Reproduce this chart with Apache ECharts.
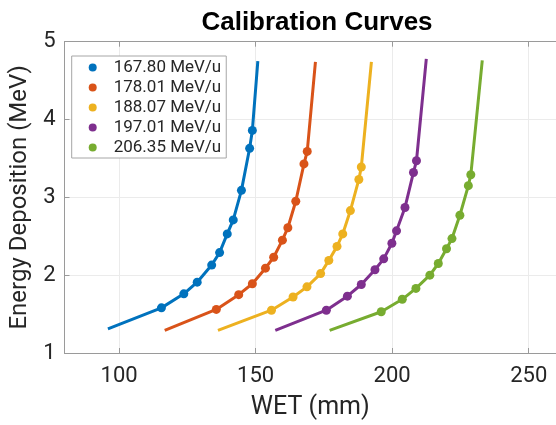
<!DOCTYPE html>
<html>
<head>
<meta charset="utf-8">
<script src="https://cdn.jsdelivr.net/npm/echarts@6/dist/echarts.min.js"></script>
<style>html,body{margin:0;padding:0;background:#fff}#c{width:556px;height:425px}</style>
</head>
<body>
<div id="c"></div>
<script>
var seriesNames = ['167.80 MeV/u', '178.01 MeV/u', '188.07 MeV/u', '197.01 MeV/u', '206.35 MeV/u'];
var colors = ['#0072BD', '#D95319', '#EDB120', '#7E2F8E', '#77AC30'];
var xTicks = [100, 150, 200, 250];

// measured points (WET mm, Energy MeV)
var wet1 = [115.5, 123.7, 128.6, 133.9, 136.8, 139.6, 141.8, 144.8, 147.8, 148.8];
var dep1 = [1.58, 1.76, 1.91, 2.13, 2.29, 2.53, 2.71, 3.09, 3.63, 3.86];
var wet2 = [135.6, 143.8, 148.8, 153.6, 156.6, 159.8, 161.8, 164.7, 167.7, 168.9];
var dep2 = [1.56, 1.75, 1.89, 2.09, 2.23, 2.45, 2.61, 2.95, 3.43, 3.59];
var wet3 = [155.8, 163.7, 168.8, 173.8, 176.8, 179.8, 181.9, 184.7, 187.8, 188.7];
var dep3 = [1.55, 1.72, 1.85, 2.02, 2.19, 2.37, 2.53, 2.83, 3.23, 3.39];
var wet4 = [175.9, 183.6, 188.7, 193.7, 196.9, 199.9, 201.6, 204.7, 207.8, 208.9];
var dep4 = [1.55, 1.73, 1.88, 2.07, 2.21, 2.41, 2.57, 2.87, 3.32, 3.47];
var wet5 = [196.0, 203.7, 208.7, 213.8, 216.9, 219.9, 221.9, 224.8, 227.9, 228.8];
var dep5 = [1.53, 1.69, 1.83, 2.00, 2.15, 2.34, 2.47, 2.77, 3.15, 3.29];

// fitted curve end points
var fitStartWet = [95.9, 116.7, 136.2, 157.2, 177.1];
var fitStartDep = [1.31, 1.29, 1.29, 1.29, 1.29];
var fitEndWet = [150.8, 171.9, 192.4, 212.5, 233.0];
var fitEndDep = [4.75, 4.74, 4.74, 4.78, 4.76];

var wets = [wet1, wet2, wet3, wet4, wet5];
var deps = [dep1, dep2, dep3, dep4, dep5];

var series = [];
for (var i = 0; i < 5; i++) {
  var pts = wets[i].map(function (w, j) { return [w, deps[i][j]]; });
  var fit = [[fitStartWet[i], fitStartDep[i]]].concat(pts).concat([[fitEndWet[i], fitEndDep[i]]]);
  series.push({
    name: 'fit' + i, type: 'line', data: fit, showSymbol: false, symbol: 'none',
    smooth: false,
    lineStyle: { color: colors[i], width: 3, join: 'round', cap: 'butt' }, itemStyle: { color: colors[i] },
    z: 2, silent: true, animation: false
  });
  series.push({
    name: seriesNames[i], type: 'scatter', data: pts, symbol: 'circle', symbolSize: 9,
    itemStyle: { color: colors[i], opacity: 1 }, z: 3, animation: false
  });
}

var txt = '#262626';
var chart = echarts.init(document.getElementById('c'), null, { renderer: 'canvas' });
chart.setOption({
  animation: false,
  backgroundColor: '#fff',
  title: {
    text: 'Calibration Curves', left: 312, textAlign: 'center', top: 5,
    textStyle: { fontFamily: 'Liberation Sans', fontWeight: 'bold', fontSize: 26, color: '#000' }
  },
  grid: { left: 64.5, right: 0, top: 41.7, bottom: 66.7, containLabel: false },
  legend: {
    orient: 'vertical', left: 71.7, top: 56,
    data: seriesNames.map(function (n) { return { name: n, icon: 'circle' }; }),
    itemWidth: 8, itemHeight: 8, itemGap: -1,
    padding: [1, 5, 0, 17],
    borderColor: '#a6a6a6', borderWidth: 1, backgroundColor: '#fff',
    textStyle: { fontFamily: 'Roboto', fontSize: 17, color: txt, lineHeight: 21, padding: [0, 0, 0, 12] },
    selectedMode: false
  },
  xAxis: [{
    type: 'value', min: 80, max: 260, position: 'bottom',
    name: 'WET (mm)', nameLocation: 'middle', nameGap: 42,
    nameTextStyle: { fontFamily: 'Roboto', fontSize: 25, color: txt },
    axisLine: { show: true, lineStyle: { color: '#9a9a9a', width: 1 } },
    axisTick: { show: true, inside: true, length: 5, customValues: xTicks, lineStyle: { color: '#9a9a9a' } },
    axisLabel: { customValues: xTicks, margin: 12, fontFamily: 'Roboto', fontSize: 22, color: txt },
    splitLine: { show: true, lineStyle: { color: '#ebebeb', width: 1 } }
  }, {
    type: 'value', min: 80, max: 260, position: 'top',
    axisLine: { show: true, onZero: false, lineStyle: { color: '#9a9a9a', width: 1 } },
    axisTick: { show: true, inside: true, length: 5, customValues: xTicks, lineStyle: { color: '#9a9a9a' } },
    axisLabel: { show: false }, splitLine: { show: false }
  }],
  yAxis: [{
    type: 'value', min: 1, max: 5, interval: 1,
    name: 'Energy Deposition (MeV)', nameLocation: 'middle', nameGap: 29,
    nameTextStyle: { fontFamily: 'Roboto', fontSize: 24, color: txt },
    axisLine: { show: true, lineStyle: { color: '#9a9a9a', width: 1 } },
    axisTick: { show: true, inside: true, length: 5, lineStyle: { color: '#9a9a9a' } },
    axisLabel: { margin: 9, fontFamily: 'Roboto', fontSize: 22, color: txt },
    splitLine: { show: true, lineStyle: { color: '#ebebeb', width: 1 } }
  }],
  series: series
});
</script>
</body>
</html>
